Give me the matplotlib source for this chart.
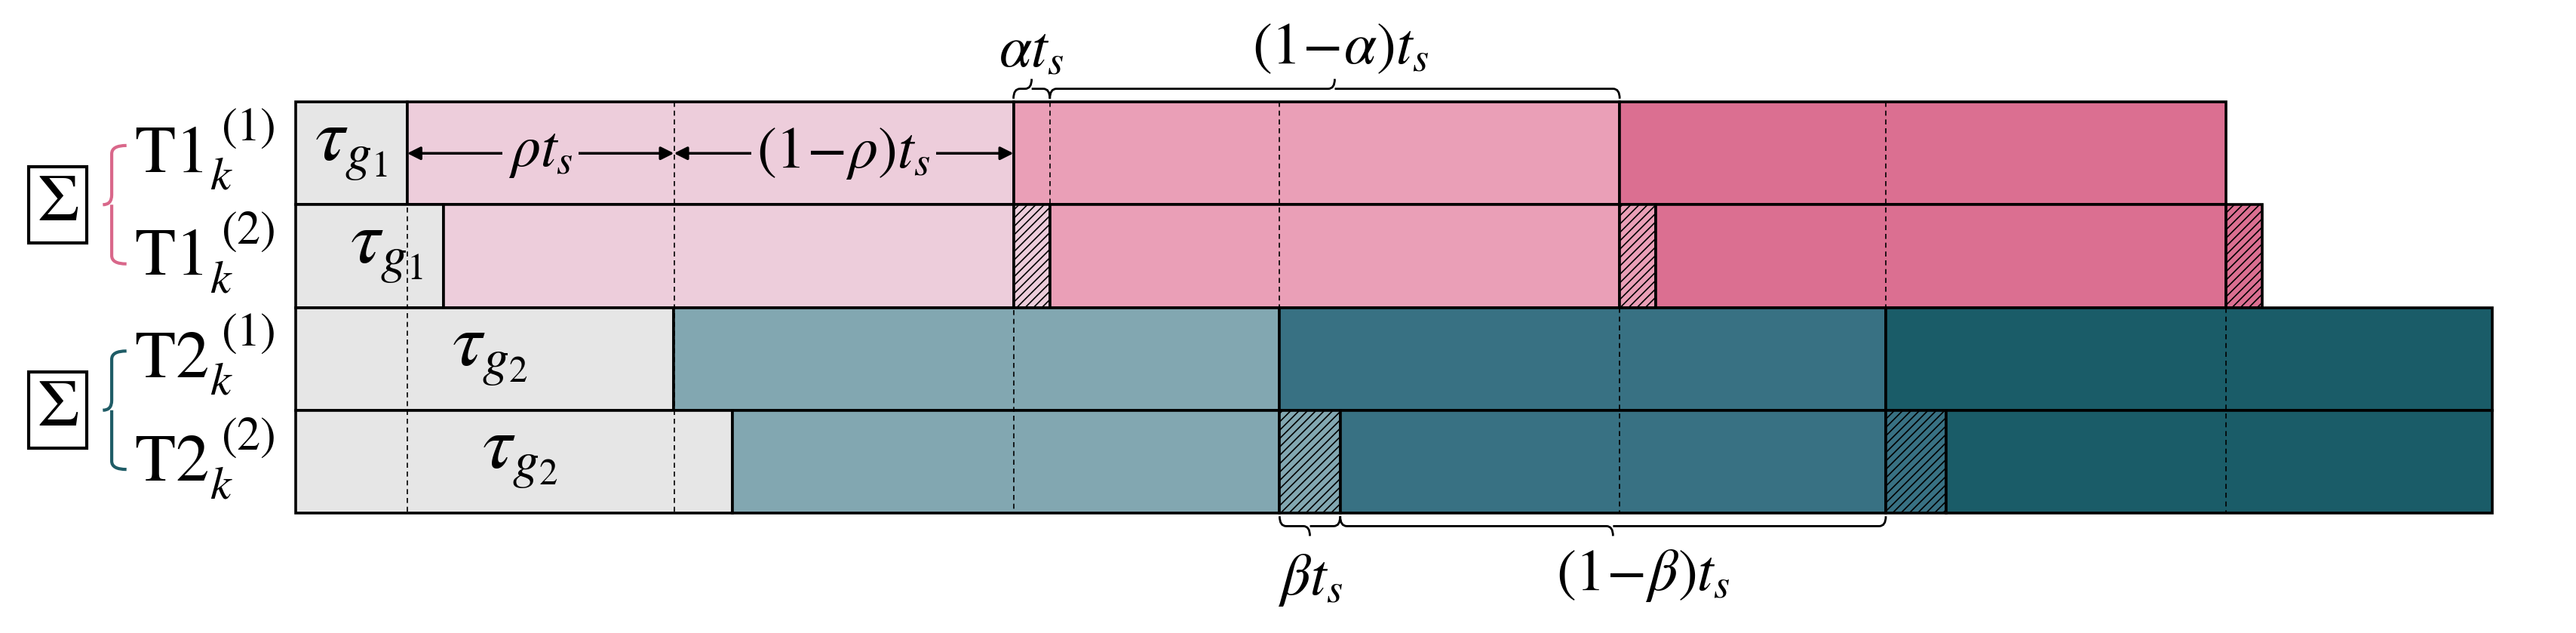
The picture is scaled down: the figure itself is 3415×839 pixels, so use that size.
import matplotlib
matplotlib.use("Agg")
import matplotlib.pyplot as plt
from matplotlib.patches import Rectangle, PathPatch
from matplotlib.path import Path

plt.rcParams['mathtext.fontset'] = 'stix'
plt.rcParams['font.family'] = 'STIXGeneral'
plt.rcParams['hatch.linewidth'] = 1.2

# durations in units of t_s
ts = 1.0
alpha = 0.06
beta = 0.10
rho = 0.44
guard = [0.184, 0.244, 0.623, 0.72]   # tau_g per row
trailing_overlap = [False, True, False, False]
row_labels = [r'$\mathrm{T1}_k^{\ (1)}$', r'$\mathrm{T1}_k^{\ (2)}$',
              r'$\mathrm{T2}_k^{\ (1)}$', r'$\mathrm{T2}_k^{\ (2)}$']
tau_labels = [r'$\tau_{g_1}$', r'$\tau_{g_1}$', r'$\tau_{g_2}$', r'$\tau_{g_2}$']
pink = ['#EDCDDB', '#EA9FB7', '#DB6F91']
teal = ['#82A7B1', '#387183', '#1A5C68']
gray = '#E6E6E6'

# layout (display units: 369 px per t_s, row height 62.5 px)
PX = 369.0
X0 = 180.0
TOP = 62.0
RH = 62.5

fig = plt.figure(figsize=(34.15, 8.39), dpi=100)
ax = fig.add_axes([0, 0, 1, 1])
ax.set_xlim(-X0 / PX, (1568 - X0) / PX)
ax.set_ylim(385, 0)
ax.axis('off')

def rect(x0, x1, row, color, hatch=None):
    y = TOP + RH * row
    ax.add_patch(Rectangle((x0, y), x1 - x0, RH, facecolor=color,
                           edgecolor='black', lw=2.6, hatch=hatch, zorder=2))

# build rows
for row in range(4):
    cols = pink if row < 2 else teal
    g = guard[row]
    ov = 0.0 if row in (0, 2) else (alpha if row == 1 else beta)
    rect(0, g, row, gray)
    first_end = guard[row - 1] + ts if row in (1, 3) else g + ts
    rect(g, first_end, row, cols[0])
    pos = first_end
    for k in range(2):
        if ov > 0:
            rect(pos, pos + ov, row, cols[k], hatch='///')
            rect(pos + ov, pos + ts, row, cols[k + 1])
        else:
            rect(pos, pos + ts, row, cols[k + 1])
        pos = pos + ts
    if trailing_overlap[row]:
        rect(pos, pos + ov, row, cols[2], hatch='///')

# dashed guide lines
def dash(x, r0=0, r1=4):
    ax.plot([x, x], [TOP + RH * r0, TOP + RH * r1], color='black', ls=(0, (4, 3)),
            lw=1.2, zorder=3)
t1_start = guard[0] + ts
t2_start = guard[2] + ts
dash(guard[0])
dash(guard[0] + rho)
dash(t1_start, 1, 4)
dash(t1_start + alpha, 0, 1)
dash(t2_start, 0, 2)
dash(t2_start + ts, 0, 2)
dash(t1_start + ts, 2, 4)
dash(t1_start + 2 * ts, 2, 4)

# row labels and tau labels
for row in range(4):
    yc = TOP + RH * (row + 0.5)
    ax.text(-0.15, yc - 2, row_labels[row], fontsize=64, ha='center', va='center')
tau_pos = [(0.092, 0), (0.15, 1), (0.32, 2), (0.37, 3)]
for (x, row), lab in zip(tau_pos, tau_labels):
    ax.text(x, TOP + RH * (row + 0.5) - 3, lab, fontsize=72, ha='center', va='center', zorder=4)

# sigma boxes and side braces
def vbrace(x, y0, y1, color):
    w = 9 / PX
    ym = (y0 + y1) / 2
    verts = [(x + w, y0), (x, y0), (x, y0 + 5), (x, ym - 6), (x, ym), (x - w * 0.6, ym),
             (x, ym), (x, ym + 6), (x, y1 - 5), (x, y1), (x + w, y1)]
    codes = [Path.MOVETO, Path.CURVE3, Path.CURVE3, Path.LINETO, Path.CURVE3, Path.CURVE3,
             Path.MOVETO, Path.CURVE3, Path.LINETO, Path.CURVE3, Path.CURVE3]
    ax.add_patch(PathPatch(Path(verts, codes), fill=False, edgecolor=color, lw=3))

for grp, color in ((0, '#D9678A'), (1, '#1F5C66')):
    yc = TOP + RH * (2 * grp + 1)
    ax.text(-145 / PX, yc, r'$\Sigma$', fontsize=64, ha='center', va='center',
            bbox=dict(boxstyle='square,pad=0.12', facecolor='white', edgecolor='black', lw=3))
    vbrace(-112 / PX, yc - 36, yc + 36, color)

# horizontal braces
def hbrace(x0, x1, y, h):
    xm = (x0 + x1) / 2
    r = 4 / PX
    verts = [(x0, y), (x0, y + h * 0.5), (x0 + r, y + h * 0.5), (xm - r, y + h * 0.5),
             (xm, y + h * 0.5), (xm, y + h * 1.0), (xm, y + h * 0.5), (xm + r, y + h * 0.5),
             (x1 - r, y + h * 0.5), (x1, y + h * 0.5), (x1, y)]
    codes = [Path.MOVETO, Path.CURVE3, Path.CURVE3, Path.LINETO, Path.CURVE3, Path.CURVE3,
             Path.MOVETO, Path.LINETO, Path.LINETO, Path.CURVE3, Path.CURVE3]
    ax.add_patch(PathPatch(Path(verts, codes), fill=False, edgecolor='black', lw=2, zorder=5))

hbrace(t1_start, t1_start + alpha, TOP - 2, -12)
hbrace(t1_start + alpha, t1_start + ts, TOP - 2, -12)
ax.text(t1_start + alpha / 2, 32, r'$\alpha t_s$', fontsize=56, ha='center', va='center')
ax.text(t1_start + alpha + ts / 2 - 0.02, 30, r'$(1\!-\!\alpha)t_s$', fontsize=56,
        ha='center', va='center')
y4 = TOP + 4 * RH
hbrace(t2_start, t2_start + beta, y4 + 2, 12)
hbrace(t2_start + beta, t2_start + ts, y4 + 2, 12)
ax.text(t2_start + beta / 2, 353, r'$\beta t_s$', fontsize=56, ha='center', va='center')
ax.text(t2_start + beta + ts / 2, 350, r'$(1\!-\!\beta)t_s$', fontsize=56,
        ha='center', va='center')

# rho arrows inside first row
ya = TOP + RH * 0.5
for a, b, lab in ((guard[0], guard[0] + rho, r'$\rho t_s$'),
                  (guard[0] + rho, t1_start, r'$(1\!-\!\rho)t_s$')):
    ax.annotate('', xy=(a, ya), xytext=(b, ya),
                arrowprops=dict(arrowstyle='<|-|>', color='black', lw=2.5,
                                shrinkA=0, shrinkB=0, mutation_scale=26), zorder=4)
    ax.text((a + b) / 2, ya, lab, fontsize=56, ha='center', va='center', zorder=5,
            bbox=dict(boxstyle='square,pad=0.1', facecolor=pink[0], edgecolor='none'))

fig.savefig('out.png', dpi=100)
